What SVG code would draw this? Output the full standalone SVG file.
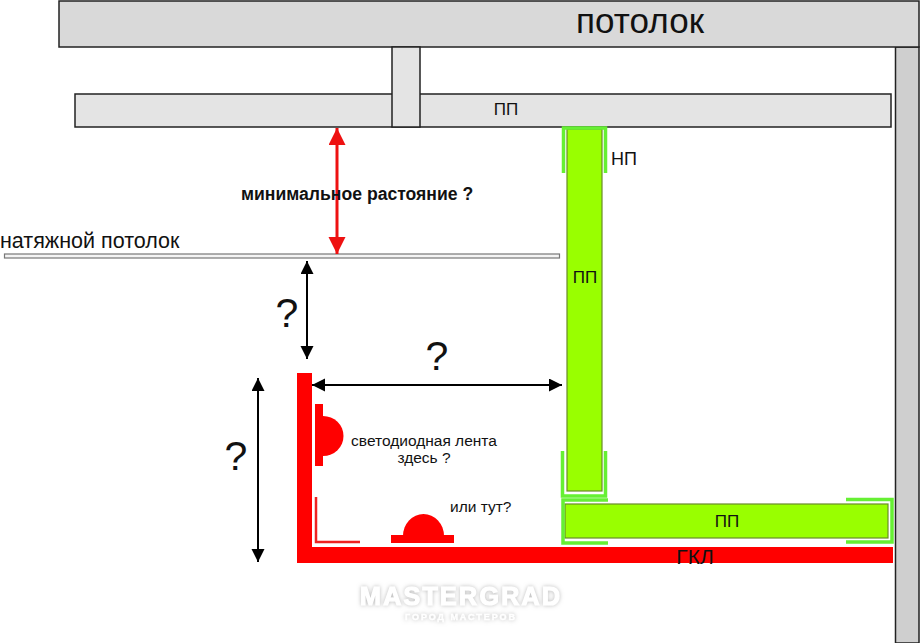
<svg xmlns="http://www.w3.org/2000/svg" width="920" height="643" viewBox="0 0 920 643">
<style>
text{font-family:"Liberation Sans",Arial,sans-serif;fill:#111}
.m{text-anchor:middle}
.grey{fill:#e4e4e4;stroke:#222;stroke-width:1.5}
.g{fill:#99ff00;stroke:#6a8a2a;stroke-width:1.2}
.n{fill:none;stroke:#66f033;stroke-width:3.5}
.r{fill:#ff0000}
.b{stroke:#000;stroke-width:2;fill:none}
.rl{stroke:#ee1111;stroke-width:3;fill:none}
.wm{font-weight:bold;fill:#fff;stroke:#fff;filter:url(#glow)}
</style>
<defs>
<marker id="ah" markerUnits="userSpaceOnUse" markerWidth="14" markerHeight="14" refX="13" refY="6.5" orient="auto-start-reverse"><path d="M0 0L13 6.5L0 13Z" fill="#000"/></marker>
<marker id="rh" markerUnits="userSpaceOnUse" markerWidth="18" markerHeight="18" refX="17" refY="8.5" orient="auto-start-reverse"><path d="M0 0L17 8.5L0 17Z" fill="#ee1111"/></marker>
<filter id="glow" x="-10%" y="-50%" width="120%" height="200%"><feDropShadow dx="0" dy="0" stdDeviation="2" flood-color="#bbb"/></filter>
</defs>
<rect width="920" height="643" fill="#fff"/>
<g id="wall"><rect x="895.500" y="47" width="23.500" height="596" fill="#cfcfcf" stroke="#222" stroke-width="1.500"/></g>
<g id="ceiling"><rect x="59" y="1" width="860" height="46" fill="#d9d9d9" stroke="#222" stroke-width="1.500"/><text class="m" x="640" y="33" font-size="35" textLength="128">потолок</text></g>
<g id="pp-top"><rect class="grey" x="75" y="94" width="816" height="33"/><text class="m" x="506" y="115" font-size="17">ПП</text></g>
<g id="hanger"><rect class="grey" x="392" y="47" width="28" height="80"/></g>
<g id="stretch-ceiling"><rect x="4.500" y="254" width="555" height="4" fill="#f4f4f4" stroke="#777" stroke-width="1.200"/><text x="0" y="248" font-size="21.500">натяжной потолок</text></g>
<g id="pp-vertical"><rect class="g" x="567" y="129" width="35" height="362"/><text class="m" x="585" y="283" font-size="17">ПП</text></g>
<g id="np-top"><path class="n" d="M563.500 173V128H605.500V173"/><text x="611" y="165" font-size="18">НП</text></g>
<g id="np-bottom"><path class="n" d="M562.500 451V496H605.500V451"/></g>
<g id="pp-horizontal"><rect class="g" x="565" y="504" width="323" height="34"/><text class="m" x="727" y="527" font-size="17">ПП</text></g>
<g id="np-left"><path class="n" d="M608 500H563V543H608"/></g>
<g id="np-right"><path class="n" d="M846 499.500H892V542H846"/></g>
<g id="gkl"><rect class="r" x="297" y="547" width="596" height="16"/><rect class="r" x="297" y="373" width="15" height="190"/><text class="m" x="695" y="564" font-size="21">ГКЛ</text></g>
<g id="corner"><path d="M316 497V542H360" fill="none" stroke="#ee2222" stroke-width="2.500"/></g>
<g id="led-side"><rect class="r" x="315" y="404" width="8" height="62"/><path class="r" d="M323 416A20.500 20 0 0 1 323 456Z"/><text class="m" x="424" y="446" font-size="15.500">светодиодная лента</text><text class="m" x="424" y="463" font-size="15.500">здесь ?</text></g>
<g id="led-bottom"><rect class="r" x="391" y="535" width="63" height="8"/><path class="r" d="M403 536A20.500 22 0 0 1 444 536Z"/><text x="450" y="512" font-size="15.500">или тут?</text></g>
<g id="connectors">
<path class="rl" d="M337 128V254" marker-start="url(#rh)" marker-end="url(#rh)"/>
<path class="b" d="M307 261V359" marker-start="url(#ah)" marker-end="url(#ah)"/>
<path class="b" d="M312 385H562" marker-start="url(#ah)" marker-end="url(#ah)"/>
<path class="b" d="M258 378V562" marker-start="url(#ah)" marker-end="url(#ah)"/>
</g>
<g id="labels">
<text x="241" y="200" font-size="17.600" font-weight="bold">минимальное растояние ?</text>
<text class="m" x="287" y="327" font-size="41">?</text>
<text class="m" x="437" y="370" font-size="41">?</text>
<text class="m" x="236" y="470" font-size="41">?</text>
</g>
<g id="watermark"><text class="m wm" x="460" y="605" font-size="25" textLength="200" stroke-width="1.200">MASTERGRAD</text><text class="m wm" x="460" y="620" font-size="9" textLength="110" stroke-width=".4">ГОРОД МАСТЕРОВ</text></g>
</svg>
